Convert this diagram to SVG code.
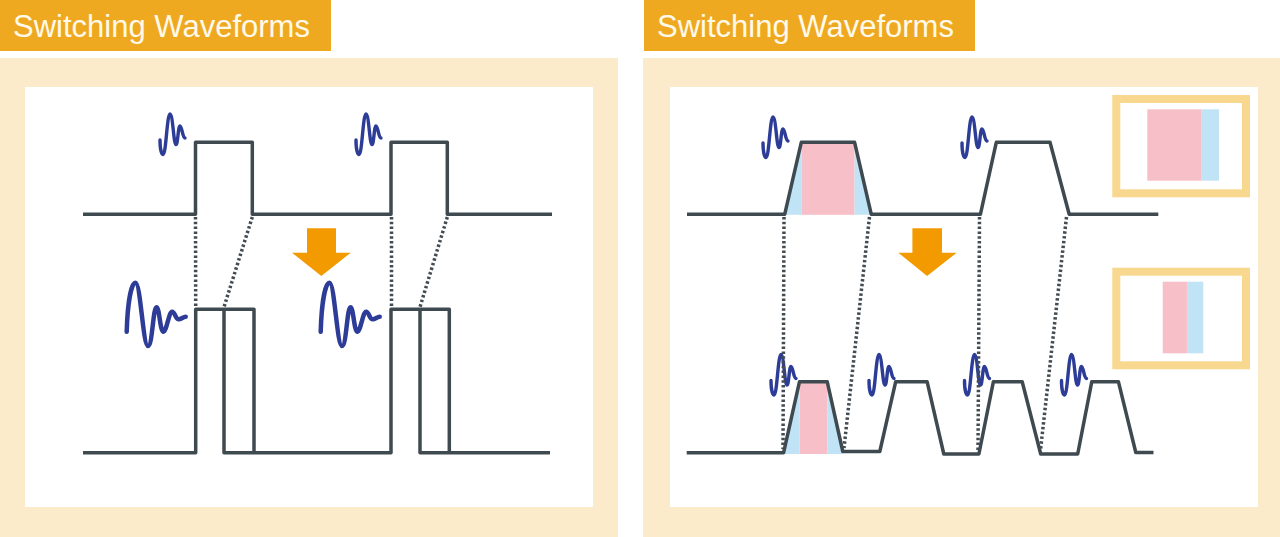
<svg xmlns="http://www.w3.org/2000/svg" width="1280" height="537" viewBox="0 0 1280 537">
<style>
.hdr{fill:#eea920}
.hdrtxt{font-family:"Liberation Sans",Arial,sans-serif;font-size:31px;fill:#fff9ea}
.cream{fill:#fbebca}
.inner{fill:#ffffff}
.wave{fill:none;stroke:#3f4a50;stroke-width:3.5;stroke-linejoin:round;stroke-linecap:butt}
.dot{fill:none;stroke:#434c52;stroke-width:3.5;stroke-dasharray:2.5 2.3}
.sq{fill:none;stroke:#2d3c96;stroke-width:3.4;stroke-linecap:round;stroke-linejoin:round}
.sqb{fill:none;stroke:#2d3c96;stroke-width:4.5;stroke-linecap:round;stroke-linejoin:round}
.arrow{fill:#f39a00}
.pink{fill:#f7c0c8}
.blue{fill:#c0e4f5}
.box{fill:#ffffff;stroke:#f8d78f;stroke-width:8}
</style>
<defs>
<path id="sqs" d="M1 5 C1 14 2.5 19.5 4.2 19.5 C7 19.5 8 -21 11 -21 C14 -21 14.5 9.5 17 9.5 C19 9.5 19 -9 21 -9 C23 -9 23.5 3 26 3"/>
<path id="sqbig" d="M0.7 1.7 C1.5 -25 5 -47.3 9.5 -47.3 C14.5 -47.3 17 16 22 16 C26.5 16 27 -22.7 30.5 -22.7 C33.5 -22.7 34 1.7 37.5 1.7 C40.5 1.7 43 -18.3 46 -18.3 C49 -18.3 49.5 -10.7 52.5 -10.7 C55.5 -10.7 57 -13.3 59.7 -13.3"/>
</defs>

<g id="left-panel">
<rect class="cream" x="0" y="58" width="618" height="479"/>
<rect class="inner" x="25" y="87" width="568" height="420"/>
<rect class="hdr" x="0" y="0" width="331" height="51"/>
<text class="hdrtxt" x="13" y="37">Switching Waveforms</text>
</g>

<g id="right-panel">
<rect class="cream" x="643" y="58" width="637" height="479"/>
<rect class="inner" x="670" y="87" width="588" height="420"/>
<rect class="hdr" x="644" y="0" width="331" height="51"/>
<text class="hdrtxt" x="657" y="37">Switching Waveforms</text>
</g>

<g id="left-upper-wave">
<polyline class="wave" points="83,214.3 195.5,214.3 195.5,142.3 252.3,142.3 252.3,214.3 391,214.3 391,142.3 447.3,142.3 447.3,214.3 552,214.3"/>
<use href="#sqs" class="sq" x="159" y="135"/>
<use href="#sqs" class="sq" x="355" y="135"/>
</g>

<g id="left-lower-wave">
<polyline class="wave" points="83,452.7 195.7,452.7 195.7,309.3 254,309.3 254,452.7"/>
<polyline class="wave" points="224,309.3 224,452.7 391,452.7 391,309.3 449.3,309.3 449.3,452.7"/>
<polyline class="wave" points="420,309.3 420,452.7 550,452.7"/>
<use href="#sqbig" class="sqb" x="126" y="330"/>
<use href="#sqbig" class="sqb" x="320" y="330"/>
</g>

<g id="left-arrow">
<polygon class="arrow" points="307,228.3 336,228.3 336,252.7 350.7,252.7 321.3,276 292,252.7 307,252.7"/>
</g>

<g id="right-upper-wave">
<rect class="pink" x="801.3" y="142.3" width="53.3" height="72.5"/>
<polygon class="blue" points="784.7,214.8 801.3,142.3 801.3,214.8"/>
<polygon class="blue" points="854.6,142.3 871.3,214.8 854.6,214.8"/>
<polyline class="wave" points="687,214.3 784.7,214.3 801.3,142.3 854.6,142.3 871.3,214.3 980.4,214.3 996.3,142.3 1050,142.3 1069.2,214.3 1158.3,214.3"/>
<use href="#sqs" class="sq" x="762" y="138"/>
<use href="#sqs" class="sq" x="961" y="138"/>
</g>

<g id="right-lower-wave">
<rect class="pink" x="799.5" y="381.7" width="27.7" height="72.3"/>
<polygon class="blue" points="783.6,454 799.5,381.7 799.5,454"/>
<polygon class="blue" points="827.2,381.7 842.8,454 827.2,454"/>
<polyline class="wave" points="686.7,452.7 783.6,452.7 799.5,381.7 827.2,381.7 842.8,451.5 879.8,451.5 895.7,381.7 927.1,381.7 943.8,454 978.9,454 993.4,381.7 1022.2,381.7 1040.7,454 1077.7,454 1091.8,381.7 1118.4,381.7 1135.8,452.5 1153.5,452.5"/>
<use href="#sqs" class="sq" x="770" y="375.5"/>
<use href="#sqs" class="sq" x="868" y="375.5"/>
<use href="#sqs" class="sq" x="963.5" y="375.5"/>
<use href="#sqs" class="sq" x="1060.5" y="375.5"/>
</g>

<g id="right-arrow">
<polygon class="arrow" points="912.4,228.3 942,228.3 942,252.7 956.7,252.7 927.1,276 898.3,252.7 912.4,252.7"/>
</g>

<g id="inset-upper">
<rect class="box" x="1116.3" y="99" width="129.7" height="94.3"/>
<rect class="pink" x="1147.3" y="109.3" width="54.4" height="71.4"/>
<rect class="blue" x="1201.7" y="109.3" width="17.3" height="71.4"/>
</g>

<g id="inset-lower">
<rect class="box" x="1116.3" y="271.7" width="129.7" height="93.6"/>
<rect class="pink" x="1162.7" y="281.7" width="25" height="71.6"/>
<rect class="blue" x="1187.7" y="281.7" width="15.6" height="71.6"/>
</g>

<g id="connectors">
<line class="dot" x1="195.5" y1="217" x2="195.7" y2="307"/>
<line class="dot" x1="252.3" y1="217" x2="224" y2="307"/>
<line class="dot" x1="391.5" y1="217" x2="391.5" y2="307"/>
<line class="dot" x1="447.3" y1="217" x2="420" y2="307"/>
<line class="dot" x1="784" y1="217" x2="783" y2="449"/>
<line class="dot" x1="869.5" y1="217" x2="844" y2="448"/>
<line class="dot" x1="979.5" y1="217" x2="978" y2="450"/>
<line class="dot" x1="1066.5" y1="217" x2="1040.5" y2="450"/>
</g>
</svg>
